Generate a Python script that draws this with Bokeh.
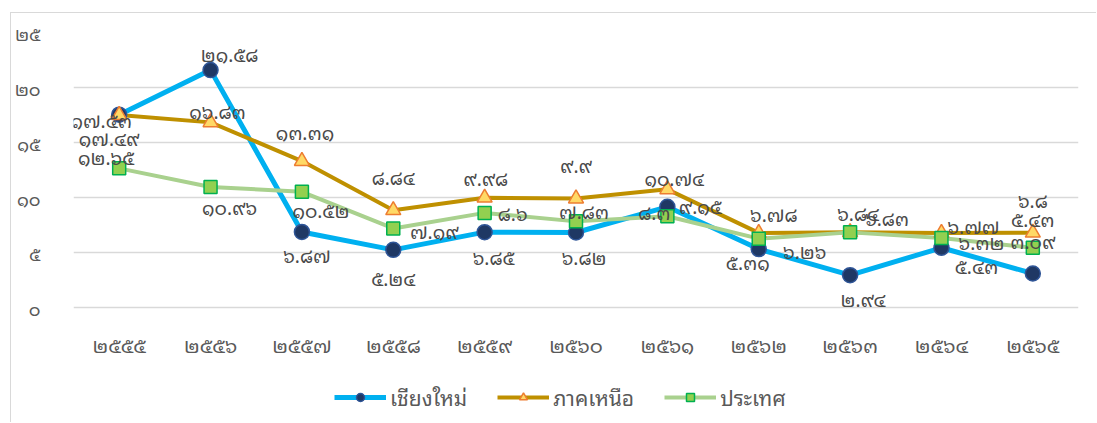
from bokeh.plotting import figure
from bokeh.models import FactorRange, Range1d, FixedTicker, Legend, LegendItem, ColumnDataSource
from bokeh.core.properties import value
from bokeh.embed import file_html
from bokeh.resources import INLINE

# ---- data ----
years = ["๒๕๕๕", "๒๕๕๖", "๒๕๕๗", "๒๕๕๘", "๒๕๕๙", "๒๕๖๐", "๒๕๖๑", "๒๕๖๒", "๒๕๖๓", "๒๕๖๔", "๒๕๖๕"]
chiangmai = [17.53, 21.58, 6.87, 5.24, 6.85, 6.82, 9.15, 5.31, 2.94, 5.43, 3.09]
north = [17.49, 16.83, 13.31, 8.84, 9.98, 9.9, 10.74, 6.78, 6.84, 6.77, 6.8]
country = [12.65, 10.96, 10.52, 7.19, 8.6, 7.83, 8.3, 6.26, 6.83, 6.32, 5.43]
series_names = ["เชียงใหม่", "ภาคเหนือ", "ประเทศ"]
y_ticks = [0, 5, 10, 15, 20, 25]

# label offsets (pixels)
cm_dx = [-18, 19, 5, 0, 9, 8, 33, -11, 13, 35, 0]
cm_dy = [5, -17, 23, 28, 24, 24, -1, 12, 23, 18, -33]
no_dx = [-10, 7, 3, 0, 1, 0, 7, 15, 8, 32, 0]
no_dy = [22, -12, -30, -34, -20, -34, -12, -19, -20, -8, -33]
co_dx = [-13, 19, 19, 41, 28, 8, -13, 46, 37, 40, 0]
co_dy = [-12, 20, 18, 2, 0, -11, -5, 12, -15, 4, -29]

TH = str.maketrans("0123456789", "๐๑๒๓๔๕๖๗๘๙")
def th(s):
    return str(s).translate(TH)
def fmt(v):
    return th(f"{v:g}")

FONT = "Noto Sans Thai Looped, Loma, Garuda, Noto Sans, sans-serif"
GRAY = "#595959"

# frame spans from the 25 line down to the bottom of the canvas (legend lives inside it)
p = figure(x_range=FactorRange(*years), y_range=Range1d(-10.545, 25),
           width=1086, height=410, output_backend="svg", toolbar_location=None,
           min_border_left=58, min_border_right=19, min_border_top=19, min_border_bottom=0)
p.outline_line_color = None
p.background_fill_color = "white"
p.border_fill_color = "white"
p.styles = {"border-left": "1px solid #D9D9D9", "border-top": "1px solid #D9D9D9",
            "margin-left": "10px", "margin-top": "12px"}

p.xgrid.grid_line_color = None
p.ygrid.grid_line_color = "#D9D9D9"
p.ygrid.grid_line_width = 1.5
p.yaxis.ticker = FixedTicker(ticks=y_ticks)
p.yaxis.major_label_overrides = {t: th(t) for t in y_ticks}
for ax in (p.xaxis, p.yaxis):
    ax.axis_line_color = None
    ax.major_tick_line_color = None
    ax.minor_tick_line_color = None
    ax.major_label_text_color = GRAY
    ax.major_label_text_font = FONT
    ax.major_label_text_font_size = "20px"
    ax.major_label_text_font_style = "normal"
p.yaxis.major_label_text_font_size = "18px"
p.yaxis.major_label_standoff = 27
p.xaxis.fixed_location = 0
p.xaxis.major_label_standoff = 14

series = [
    (chiangmai, "#00B0F0", 5, "circle", 15, "#1F3864", "#2F5597", cm_dx, cm_dy),
    (north, "#BF9000", 4, "triangle", 15, "#FFD966", "#ED7D31", no_dx, no_dy),
    (country, "#A9D18E", 4, "square", 13, "#92D050", "#00B050", co_dx, co_dy),
]

lines = []
for vals, lc, lw, *_ in series:
    lines.append(p.line(x=years, y=vals, line_color=lc, line_width=lw, line_join="round"))
marks = []
for vals, lc, lw, mk, ms, fc, oc, dx, dy in series:
    marks.append(p.scatter(x=years, y=vals, marker=mk, size=ms, fill_color=fc,
                           line_color=oc, line_width=1.5))
for vals, lc, lw, mk, ms, fc, oc, dx, dy in series:
    src = ColumnDataSource(dict(x=years, y=vals, t=[fmt(v) for v in vals], dx=dx, dy=dy))
    p.text(x="x", y="y", text="t", x_offset="dx", y_offset="dy", source=src,
           text_align="center", text_baseline="middle", text_font=value(FONT),
           text_font_size="19px", text_color="#4a4a4a")

legend = Legend(items=[LegendItem(label=n, renderers=[l, m]) for n, l, m in zip(series_names, lines, marks)],
                orientation="horizontal", location=(257, 6),
                label_text_font=FONT, label_text_font_size="21px", label_text_color=GRAY,
                glyph_width=52, glyph_height=20, spacing=30, label_standoff=4,
                border_line_alpha=0, background_fill_alpha=0, margin=0, padding=4)
p.add_layout(legend)

open("out.html", "w").write(file_html(p, INLINE))
